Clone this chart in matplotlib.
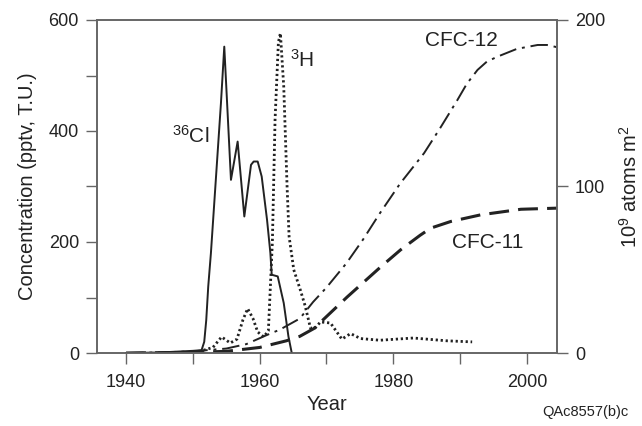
import matplotlib
matplotlib.use("Agg")
import matplotlib.pyplot as plt

plt.rcParams['font.family'] = ['Liberation Sans', 'DejaVu Sans']
plt.rcParams['mathtext.default'] = 'regular'

# 36Cl fallout (10^9 atoms m^2, right axis)
cl_year = [1940, 1945, 1950, 1951.3, 1951.7, 1952.0, 1952.3, 1952.7, 1953.2, 1953.7,
           1954.2, 1954.7, 1955.7, 1956.7, 1957.7, 1958.7, 1959.1, 1959.7, 1960.3,
           1961.1, 1961.6, 1961.8, 1962.7, 1963.6, 1964.3, 1964.8]
cl_val = [0, 0.3, 1.3, 1.7, 6.7, 19.7, 40, 60, 90, 120,
          150, 184, 104, 127, 82, 113, 115, 115, 106,
          80, 60, 47, 46, 30, 10, 0]

# Tritium (T.U., left axis)
h3_year = [1951.6, 1953.0, 1954.3, 1955.6, 1956.6, 1957.5, 1958.2, 1959.0, 1959.7,
           1960.6, 1961.3, 1961.9, 1962.3, 1962.8, 1963.1, 1963.6, 1964.1, 1964.4,
           1965.1, 1966.1, 1966.8, 1967.6, 1968.3, 1969.1, 1970.6, 1972.3, 1973.6,
           1975.1, 1978.0, 1983.0, 1988.0, 1991.8]
h3_val = [5, 10, 29, 18, 25, 60, 80, 62, 38, 29, 40, 200, 420, 560, 576, 480, 300,
          210, 150, 113, 85, 45, 45, 56, 54, 25, 35, 26, 23, 27, 22, 20]

# CFC-12 (pptv)
cfc12_year = [1940, 1945, 1950, 1955, 1958, 1961, 1963, 1966, 1968, 1970, 1973, 1975.5,
              1978, 1981, 1984.6, 1987, 1989.6, 1991, 1992.6, 1994, 1995.6, 1998.5,
              2001.6, 2003, 2004.5]
cfc12_val = [0, 1, 3, 8, 16, 32, 42, 62, 92, 118, 162, 205,
             252, 305, 360, 405, 456, 485, 510, 525, 534, 548,
             555, 555, 551]

# CFC-11 (pptv)
cfc11_year = [1940, 1950, 1955, 1960, 1964, 1966, 1968.1, 1973.1, 1978.1, 1981.1,
              1984, 1985.6, 1988.6, 1993.1, 1999.1, 2004.5]
cfc11_val = [0, 1, 3, 10, 22, 30, 44, 101, 155, 186, 212, 225, 237, 249, 259, 261]

spine_col = '#666666'
ink = '#222222'

fig = plt.figure(figsize=(6.42, 4.26), dpi=100)
ax = fig.add_axes([97 / 642, 1 - 353 / 426, 460 / 642, 333 / 426])
ax2 = ax.twinx()

ax.plot(h3_year, h3_val, color=ink, lw=2.0, linestyle=(0, (0.8, 1.0)))
ax.plot(cfc12_year, cfc12_val, color=ink, lw=1.4, linestyle=(0, (9, 3, 1.5, 3)))
ax.plot(cfc11_year, cfc11_val, color=ink, lw=2.2, linestyle=(0, (6.5, 3)))
ax2.plot(cl_year, cl_val, color=ink, lw=1.4)

ax.set_xlim(1935.65, 2004.5)
ax.set_ylim(0, 600)
ax2.set_ylim(0, 200)

ax.set_xticks([1940, 1960, 1980, 2000])
ax.set_xticks([1950, 1970, 1990], minor=True)
ax.set_yticks([0, 200, 400, 600])
ax.set_yticks([100, 300, 500], minor=True)
ax2.set_yticks([0, 100, 200])

for a in (ax, ax2):
    for s in a.spines.values():
        s.set_color(spine_col)
        s.set_linewidth(1.2)
    a.tick_params(which='both', direction='out', length=8, width=1.0,
                  color=spine_col, labelsize=13, labelcolor=ink, pad=5)
ax.tick_params(axis='x', pad=7)

ax.set_xlabel('Year', fontsize=14.5, color=ink, labelpad=3)
ax.set_ylabel('Concentration (pptv, T.U.)', fontsize=14.5, color=ink, labelpad=8)
ax2.set_ylabel('10$^9$ atoms m$^2$', fontsize=14.5, color=ink, labelpad=10)

ax.text(1946.9, 378, '$^{36}$Cl', fontsize=15, color=ink)
ax.text(1964.6, 515, '$^{3}$H', fontsize=15, color=ink)
ax.text(1984.8, 553, 'CFC-12', fontsize=15, color=ink)
ax.text(1988.8, 189, 'CFC-11', fontsize=15, color=ink)

fig.text(585 / 642, 1 - 412 / 426, 'QAc8557(b)c', fontsize=10.5, color=ink,
         ha='center', va='center')

fig.savefig('out.png', dpi=100)
